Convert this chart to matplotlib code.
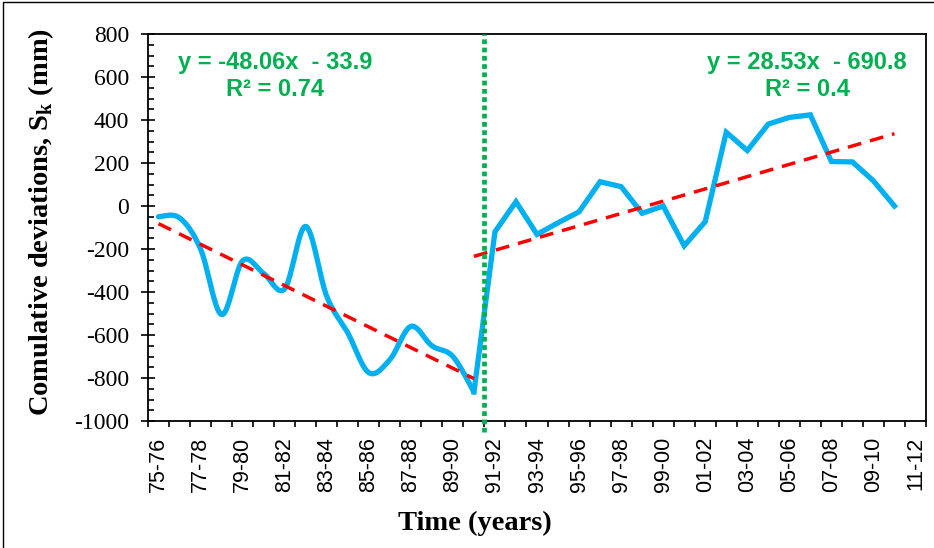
import numpy as np
import matplotlib.pyplot as plt
from matplotlib.patches import Rectangle
from matplotlib.ticker import MultipleLocator

plt.rcParams['mathtext.fontset'] = 'custom'
plt.rcParams['mathtext.bf'] = 'Liberation Serif:bold'
plt.rcParams['mathtext.rm'] = 'Liberation Serif:bold'
plt.rcParams['axes.unicode_minus'] = False

# hydrological years on the category axis
years = ["75-76", "76-77", "77-78", "78-79", "79-80", "80-81", "81-82", "82-83",
         "83-84", "84-85", "85-86", "86-87", "87-88", "88-89", "89-90", "90-91",
         "91-92", "92-93", "93-94", "94-95", "95-96", "96-97", "97-98", "98-99",
         "99-00", "00-01", "01-02", "02-03", "03-04", "04-05", "05-06", "06-07",
         "07-08", "08-09", "09-10", "10-11", "11-12"]

# cumulative deviations (mm), period before the change point (75-76 .. 90-91)
sk_before = [-50, -55, -200, -505, -255, -314, -385, -95, -420, -590,
             -775, -715, -560, -650, -700, -865]
# period after the change point (90-91 .. 10-11)
sk_after = [-865, -120, 20, -132, -78, -27, 113, 90, -34, 0, -185,
            -73, 343, 258, 381, 412, 424, 207, 205, 117, 0]

# linear trends as reported by the spreadsheet (x = category number, from 1)
trend_before = (-48.06, -33.9, 0.74)
trend_after = (28.53, -690.8, 0.4)
change_point = 15.5

blue = '#00B0F0'
red = '#FF0000'
green = '#00B050'


def smooth(xs, ys, n=24):
    # Bezier smoothing through every point, like a "smoothed line" chart
    pts = np.column_stack([xs, ys]).astype(float)
    t = np.linspace(0, 1, n)[:, None]
    out = []
    for k in range(len(pts) - 1):
        p0 = pts[max(k - 1, 0)]
        p1 = pts[k]
        p2 = pts[k + 1]
        p3 = pts[min(k + 2, len(pts) - 1)]
        c1 = p1 + (p2 - p0) / 6
        c2 = p2 - (p3 - p1) / 6
        seg = (1 - t)**3 * p1 + 3 * (1 - t)**2 * t * c1 + 3 * (1 - t) * t**2 * c2 + t**3 * p2
        out.append(seg if k == 0 else seg[1:])
    return np.vstack(out)


W, H = 934, 548
fig = plt.figure(figsize=(W / 100, H / 100), dpi=100)
ax = fig.add_axes([148 / W, 1 - 421 / H, (926 - 148) / W, (421 - 34) / H])

x_before = np.arange(len(sk_before))
x_after = np.arange(len(sk_after)) + len(sk_before) - 1

curve = smooth(x_before, sk_before)
ax.plot(curve[:, 0], curve[:, 1], color=blue, lw=3.8, solid_capstyle='round', zorder=3)
ax.plot(x_after, sk_after, color=blue, lw=3.8, solid_joinstyle='miter', zorder=3)

# trend lines drawn from the fitted equations
for xs, (a, b, r2) in ((x_before, trend_before), (x_after, trend_after)):
    ax.plot(xs, a * (xs + 1) + b, color=red, lw=2.5, linestyle=(0, (4, 2.6)), zorder=4)

ax.axvline(change_point, ymin=-0.028, ymax=1, color=green, lw=3.4,
           linestyle=(0, (1, 0.75)), clip_on=False, zorder=5)

eq_font = dict(family='Liberation Sans', weight='bold', size=17, color=green,
               ha='center', va='center', linespacing=1.2, zorder=6)
ax.text(5.55, 605, f"y = {trend_before[0]}x  - {abs(trend_before[1])}\nR² = {trend_before[2]}",
        **eq_font)
ax.text(30.85, 605, f"y = {trend_after[0]}x  - {abs(trend_after[1])}\nR² = {trend_after[2]}",
        **eq_font)

ax.set_xlim(-0.5, len(years) - 0.5)
ax.set_ylim(-1000, 800)

ax.set_xticks(np.arange(-0.5, len(years), 1))
ax.set_xticklabels([])
ax.set_xticks(np.arange(0, len(years), 2), minor=True)
ax.set_xticklabels(years[::2], minor=True, rotation=90,
                   family='Liberation Sans', fontsize=15.5)
ax.tick_params(axis='x', which='major', direction='out', length=4.5, width=1.2)
ax.tick_params(axis='x', which='minor', direction='out', length=0, pad=11.5)

ax.yaxis.set_major_locator(MultipleLocator(200))
ax.yaxis.set_minor_locator(MultipleLocator(50))
ax.tick_params(axis='y', which='major', direction='inout', length=10, width=1.2, pad=8.5)
ax.tick_params(axis='y', which='minor', direction='in', length=4.5, width=1.2)
for lab in ax.get_yticklabels():
    lab.set_family('Liberation Serif')
    lab.set_fontsize(17)

for sp in ax.spines.values():
    sp.set_linewidth(1.3)
    sp.set_color('black')

fig.text(41 / W, 1 - 222 / H, r"Comulative deviations, S$_\mathbf{k}$ (mm)", rotation=90,
         ha='center', va='center', family='Liberation Serif', weight='bold', fontsize=20.5)
fig.text(475 / W, 1 - 523 / H, "Time (years)", ha='center', va='center',
         family='Liberation Serif', weight='bold', fontsize=20.5)

# chart border
fig.add_artist(Rectangle((3 / W, -0.1), 1.2, 1.1 - 2 / H, transform=fig.transFigure,
                         fill=False, edgecolor='black', lw=1.0))

fig.savefig('out.png', dpi=100)
